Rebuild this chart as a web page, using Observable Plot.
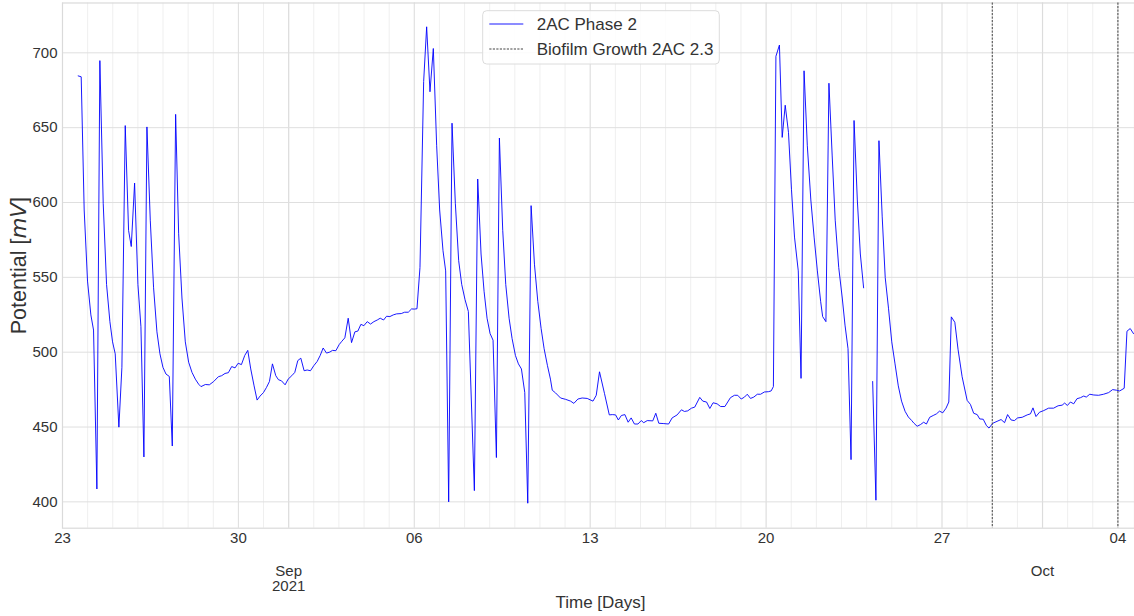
<!DOCTYPE html>
<html><head><meta charset="utf-8">
<script src="https://cdn.jsdelivr.net/npm/d3@7"></script>
<script src="https://cdn.jsdelivr.net/npm/@observablehq/plot@0.6"></script>
<style>
html,body{margin:0;padding:0;background:#fff;}
#wrap{position:relative;width:1134px;height:616px;overflow:hidden;}
#legend{position:absolute;left:0;top:0;pointer-events:none;}
</style></head><body><div id="wrap"></div>
<script>
// Time axis: fractional days after 2021-08-23 00:00 (UTC)
const startDate = "2021-08-23";
const dayOffset = [
0.624,0.744,0.863,0.996,1.129,1.235,1.368,1.487,1.620,1.753,1.886,1.992,2.098,2.244,2.364,2.497,2.629,2.736,2.869,3.001,
3.121,3.240,3.360,3.493,3.625,3.758,3.878,3.997,4.117,4.250,4.369,4.502,4.622,4.754,4.887,5.020,5.153,5.286,5.418,5.511,
5.684,5.843,6.016,6.202,6.335,6.467,6.600,6.733,6.866,6.990,
7.120,7.252,7.372,7.491,7.624,7.744,7.863,7.996,8.116,8.235,8.355,8.487,8.594,8.713,8.859,8.979,9.125,9.244,9.364,9.484,
9.616,9.736,9.868,10.001,10.134,10.254,10.373,10.506,10.639,10.745,10.878,11.011,11.117,11.236,11.369,11.502,11.635,11.754,11.874,11.993,
12.126,12.259,12.392,12.525,12.644,12.777,12.896,13.029,13.162,13.295,13.481,13.614,13.760,13.892,
14.000,14.106,14.226,14.372,14.491,14.624,14.757,14.890,15.009,15.142,15.248,15.368,15.501,15.633,15.766,15.886,16.019,16.151,16.390,16.523,
16.656,16.776,16.895,17.015,17.134,17.267,17.386,17.519,17.639,17.772,17.891,18.024,18.143,18.263,18.396,18.515,18.648,18.781,18.914,19.046,
19.166,19.299,19.418,
19.490,19.620,19.820,20.020,20.220,20.350,20.510,20.680,20.880,21.110,21.240,21.370,21.570,21.760,21.880,22.010,22.120,22.240,22.380,22.510,
22.630,22.760,22.900,23.030,23.130,23.270,23.490,23.610,23.730,23.930,24.120,24.260,24.460,24.630,24.750,24.880,25.030,25.160,25.360,25.480,
25.630,25.760,25.890,26.050,26.190,26.360,26.580,26.740,26.870,27.010,27.140,27.250,27.380,27.510,27.650,27.780,
27.930,28.090,28.200,28.290,28.390,28.530,28.640,28.760,28.890,29.010,29.130,29.280,29.390,29.510,29.640,29.780,29.910,30.040,30.170,30.250,
30.380,30.500,30.630,30.750,30.890,31.030,31.140,31.260,31.380,31.500,31.630,31.750,31.880,32.060,
32.240,32.370,32.490,32.620,32.740,32.870,33.000,33.130,33.260,33.390,33.530,33.660,33.790,33.880,
34.010,34.140,34.270,34.380,34.510,34.650,34.780,34.900,35.030,35.160,35.270,35.370,35.510,35.640,35.800,36.000,36.130,36.260,36.400,36.500,
36.640,36.770,36.870,37.020,37.190,37.350,37.490,37.610,37.750,37.880,38.010,38.190,38.390,38.520,38.620,38.740,38.880,39.050,39.240,39.440,
39.620,39.780,39.880,39.990,40.110,40.240,40.370,40.510,40.640,40.740,40.880,41.040,41.230,41.430,41.630,41.790,41.940,42.070,42.250,42.360,
42.490,42.620
];
// Potential in mV (NaN = missing reading, gap in the line)
const potential = [
684.6,684.0,595.0,547.5,524.9,514.8,408.6,694.8,599.5,545.3,520.4,506.9,498.9,449.9,489.9,651.4,581.4,570.6,613.0,545.3,
517.0,430.0,650.5,588.2,543.0,513.6,498.9,489.9,485.4,483.8,437.3,658.9,579.1,536.2,506.9,493.3,486.5,482.0,478.6,477.0,
478.4,478.2,480.4,483.6,484.3,485.8,486.3,490.4,489.5,492.6,
491.7,497.8,501.2,488.8,477.5,468.0,470.7,473.0,476.4,480.4,492.2,484.3,481.6,480.9,478.2,482.0,484.3,486.5,494.4,496.0,
487.6,488.1,487.6,491.0,493.8,497.8,502.8,499.4,500.1,501.2,501.0,505.1,507.3,509.6,522.7,506.4,513.6,514.1,518.6,517.7,
520.4,518.8,520.4,521.5,522.7,521.5,524.0,523.8,524.9,525.6,525.8,526.7,526.7,528.9,
528.8,529.0,556.6,680.8,717.4,674.0,702.9,637.9,595.0,567.8,554.3,400.0,653.0,599.5,561.1,545.3,535.1,527.2,407.5,615.7,
565.6,540.7,522.7,512.5,508.0,429.6,643.1,581.4,545.3,522.7,509.1,497.8,492.2,488.8,473.0,399.1,597.9,558.8,534.0,515.9,
502.3,491.0,482.0,
474.6,472.8,469.4,468.5,467.3,465.8,468.7,469.4,469.1,467.3,471.2,486.9,472.3,458.1,458.3,458.1,454.7,457.7,458.3,453.2,
456.1,452.0,452.0,454.3,452.9,454.3,454.1,459.2,452.5,452.3,452.0,456.1,458.1,461.5,460.4,460.8,462.6,463.3,469.8,467.3,
466.7,462.4,466.2,465.5,463.7,463.7,469.6,471.2,471.2,468.7,470.0,471.9,469.1,470.0,471.9,471.9,
473.4,473.6,474.1,477.0,697.7,705.2,643.5,665.0,646.9,608.5,576.9,554.3,482.5,688.0,637.9,601.7,576.9,554.3,534.0,523.8,
520.4,679.7,631.1,588.2,556.6,536.2,518.1,502.3,428.2,654.8,601.7,565.6,543.0,NaN,
480.4,401.1,641.3,590.4,549.8,529.4,506.9,492.2,477.5,467.3,460.5,456.7,454.4,452.6,
450.5,451.6,453.2,452.0,456.5,457.7,458.8,460.6,459.5,462.6,466.7,523.6,520.0,501.6,483.6,467.8,465.1,459.2,458.3,455.4,
455.2,450.9,449.3,452.5,453.8,455.0,452.9,458.3,454.7,454.3,456.1,456.5,458.1,458.8,462.8,457.0,459.9,461.0,462.6,462.6,
464.2,464.6,466.0,464.4,466.7,465.5,468.9,469.6,470.7,470.0,471.9,471.4,471.2,471.9,473.0,475.0,474.6,474.1,475.9,514.0,
515.8,512.4
];
const yTicks = [400, 450, 500, 550, 600, 650, 700];
const weekTicks = ["2021-08-23","2021-08-30","2021-09-06","2021-09-13","2021-09-20","2021-09-27","2021-10-04"];
const monthTicks = ["2021-09-01","2021-10-01"];
const monthLabels = ["Sep\n2021", "Oct"];
const growthDates = ["2021-09-29","2021-10-04"];
const seriesName = "2AC Phase 2";
const markerName = "Biofilm Growth 2AC 2.3";
const xLabel = "Time [Days]";
const yLabel = "Potential [mV]";

const DAY = 864e5;
const t0 = new Date(startDate + "T00:00:00Z").getTime();
const data = dayOffset.map((d, i) => ({t: new Date(t0 + d * DAY), v: potential[i]}));
const toDate = s => new Date(s + "T00:00:00Z");
const weeks = weekTicks.map(toDate);
const months = monthTicks.map(toDate);
const growth = growthDates.map(toDate);
const xEnd = new Date(t0 + 42.66 * DAY);
const daily = d3.utcDay.range(new Date(t0 + DAY), xEnd);
const monthFmt = new Map(months.map((m, i) => [+m, monthLabels[i]]));

const font = '"Liberation Sans", Arial, sans-serif';
const chart = Plot.plot({
  width: 1134, height: 616,
  marginLeft: 62, marginRight: 0, marginTop: 2.5, marginBottom: 88.3,
  style: {fontFamily: font, fontSize: "15px", color: "#333", background: "#fff", overflow: "visible"},
  x: {type: "utc", domain: [new Date(t0), xEnd]},
  y: {domain: [382.4, 733.3]},
  marks: [
    Plot.ruleX(daily, {stroke: "#efefef", strokeWidth: 1}),
    Plot.ruleX(weeks, {stroke: "#dfdfdf", strokeWidth: 1}),
    Plot.ruleX(months, {stroke: "#dcdcdc", strokeWidth: 1.2}),
    Plot.ruleY(yTicks, {stroke: "#dfdfdf", strokeWidth: 1}),
    Plot.frame({stroke: "#dadada", strokeWidth: 1.2}),
    Plot.line(data, {x: "t", y: "v", stroke: "#0000ff", strokeWidth: 1, strokeOpacity: 0.9}),
    Plot.ruleX(growth, {stroke: "#444", strokeWidth: 1, strokeDasharray: "2.2,1.3"}),
    Plot.axisY({ticks: yTicks, tickSize: 0, tickPadding: 5, label: null, fontSize: 15, fill: "#333"}),
    Plot.axisX({ticks: weeks, tickSize: 0, tickPadding: 4.3, label: null, tickFormat: d3.utcFormat("%d"), fontSize: 15, fill: "#333"}),
    Plot.axisX({ticks: months, tickSize: 0, tickPadding: 36.3, label: null, tickFormat: d => monthFmt.get(+d), fontSize: 15, fill: "#333", lineHeight: 1.05}),
    Plot.text([xLabel], {frameAnchor: "bottom", textAnchor: "middle", dy: 74, dx: 2, fontSize: 17, fill: "#333", lineAnchor: "middle"}),
    Plot.text([yLabel], {frameAnchor: "left", textAnchor: "middle", dx: -43, rotate: -90, fontSize: 21.5, fill: "#333", lineAnchor: "middle"})
  ]
});
document.getElementById("wrap").appendChild(chart);

// italic math "mV" in the y label
d3.select(chart).selectAll("text").filter(function(){ return this.textContent === yLabel; }).each(function(){
  const el = d3.select(this);
  el.text("");
  el.append("tspan").text("Potential [");
  el.append("tspan").attr("font-style", "italic").attr("font-family", '"DejaVu Sans", sans-serif').text("mV");
  el.append("tspan").text("]");
});

// legend (drawn on top of the plot)
const lg = d3.select("#wrap").append("svg").attr("id", "legend").attr("width", 1134).attr("height", 616);
lg.append("rect").attr("x", 482.7).attr("y", 10.7).attr("width", 236.6).attr("height", 53.3).attr("rx", 4)
  .attr("fill", "rgba(255,255,255,0.85)").attr("stroke", "#dcdcdc").attr("stroke-width", 1);
lg.append("line").attr("x1", 489.3).attr("x2", 523.3).attr("y1", 24).attr("y2", 24).attr("stroke", "#0000ff").attr("stroke-opacity", 0.9).attr("stroke-width", 1);
lg.append("line").attr("x1", 489.3).attr("x2", 523.3).attr("y1", 49).attr("y2", 49).attr("stroke", "#444").attr("stroke-width", 1).attr("stroke-dasharray", "2.2,1.3");
lg.append("text").attr("x", 536.7).attr("y", 24).attr("dy", "0.35em").attr("font-family", font).attr("font-size", 17).attr("fill", "#333").text(seriesName);
lg.append("text").attr("x", 536.7).attr("y", 49).attr("dy", "0.35em").attr("font-family", font).attr("font-size", 17).attr("fill", "#333").text(markerName);
</script></body></html>
